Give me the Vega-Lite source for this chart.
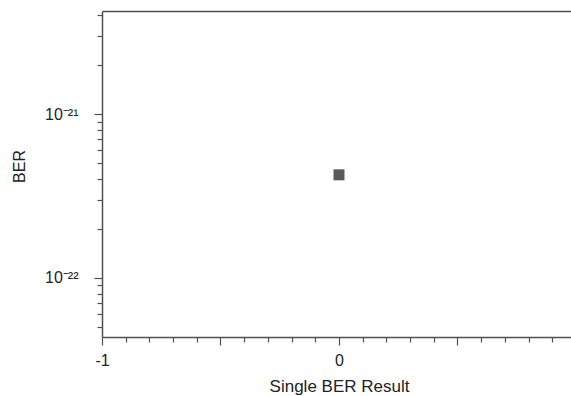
{
  "$schema": "https://vega.github.io/schema/vega-lite/v6.json",
  "autosize": "none",
  "width": 469,
  "height": 326,
  "padding": {"left": 102, "top": 11, "right": 0, "bottom": 59},
  "background": "white",
  "config": {
    "view": {"stroke": null},
    "font": "Liberation Sans",
    "axis": {"domainColor": "#505050", "tickColor": "#505050", "domainWidth": 1.5, "tickWidth": 1.2, "labelColor": "#222222", "titleColor": "#222222", "grid": false, "labelFont": "Liberation Sans", "titleFont": "Liberation Sans", "titleFontWeight": "normal"}
  },
  "data": {"values": [{"run": 0, "ber": 4.26e-22}]},
  "resolve": {"axis": {"x": "independent", "y": "independent"}},
  "layer": [
    {
      "mark": {"type": "square", "size": 121, "color": "#5a5a5a", "opacity": 1},
      "encoding": {
        "x": {"field": "run", "type": "quantitative", "scale": {"domain": [-1, 0.979], "nice": false, "zero": false},
          "axis": {"orient": "bottom", "title": "Single BER Result", "titleFontSize": 17, "titleX": 237, "titleY": 54.5, "titleBaseline": "alphabetic", "titleAnchor": null,
            "values": [-1, -0.5, 0, 0.5], "tickSize": 8, "labelFontSize": 16, "labelPadding": 7,
            "labelExpr": "datum.value == -1 ? '-1' : (datum.value == 0 ? '0' : '')", "labelFlush": false, "labelOverlap": false}},
        "y": {"field": "ber", "type": "quantitative", "scale": {"type": "log", "domain": [4.36e-23, 4.26e-21], "nice": false},
          "axis": {"orient": "left", "title": "BER", "titleFontSize": 16, "titleX": -78, "titleY": 155, "titleAngle": -90, "titleBaseline": "alphabetic", "titleAlign": "center", "titleAnchor": null,
            "values": [1e-21, 1e-22], "tickSize": 8, "labelFontSize": 16, "labelPadding": 16,
            "labelExpr": "datum.value > 5e-22 ? '10⁻²¹' : '10⁻²²'", "labelFlush": false, "labelOverlap": false}}
      }
    },
    {
      "mark": {"type": "square", "opacity": 0},
      "encoding": {
        "x": {"field": "run", "type": "quantitative",
          "axis": {"orient": "bottom", "title": null, "labels": false, "domain": false, "tickSize": 5,
            "values": [-0.9, -0.8, -0.7, -0.6, -0.4, -0.3, -0.2, -0.1, 0.1, 0.2, 0.3, 0.4, 0.6, 0.7, 0.8, 0.9]}},
        "y": {"field": "ber", "type": "quantitative",
          "axis": {"orient": "left", "title": null, "labels": false, "domain": false, "tickSize": 5,
            "values": [5e-23, 6e-23, 7e-23, 8e-23, 9e-23, 2e-22, 3e-22, 4e-22, 5e-22, 6e-22, 7e-22, 8e-22, 9e-22, 2e-21, 3e-21, 4e-21]}}
      }
    },
    {
      "mark": {"type": "square", "opacity": 0},
      "encoding": {
        "x": {"field": "run", "type": "quantitative",
          "axis": {"orient": "top", "title": null, "labels": false, "ticks": false, "domain": true}}
      }
    }
  ]
}
